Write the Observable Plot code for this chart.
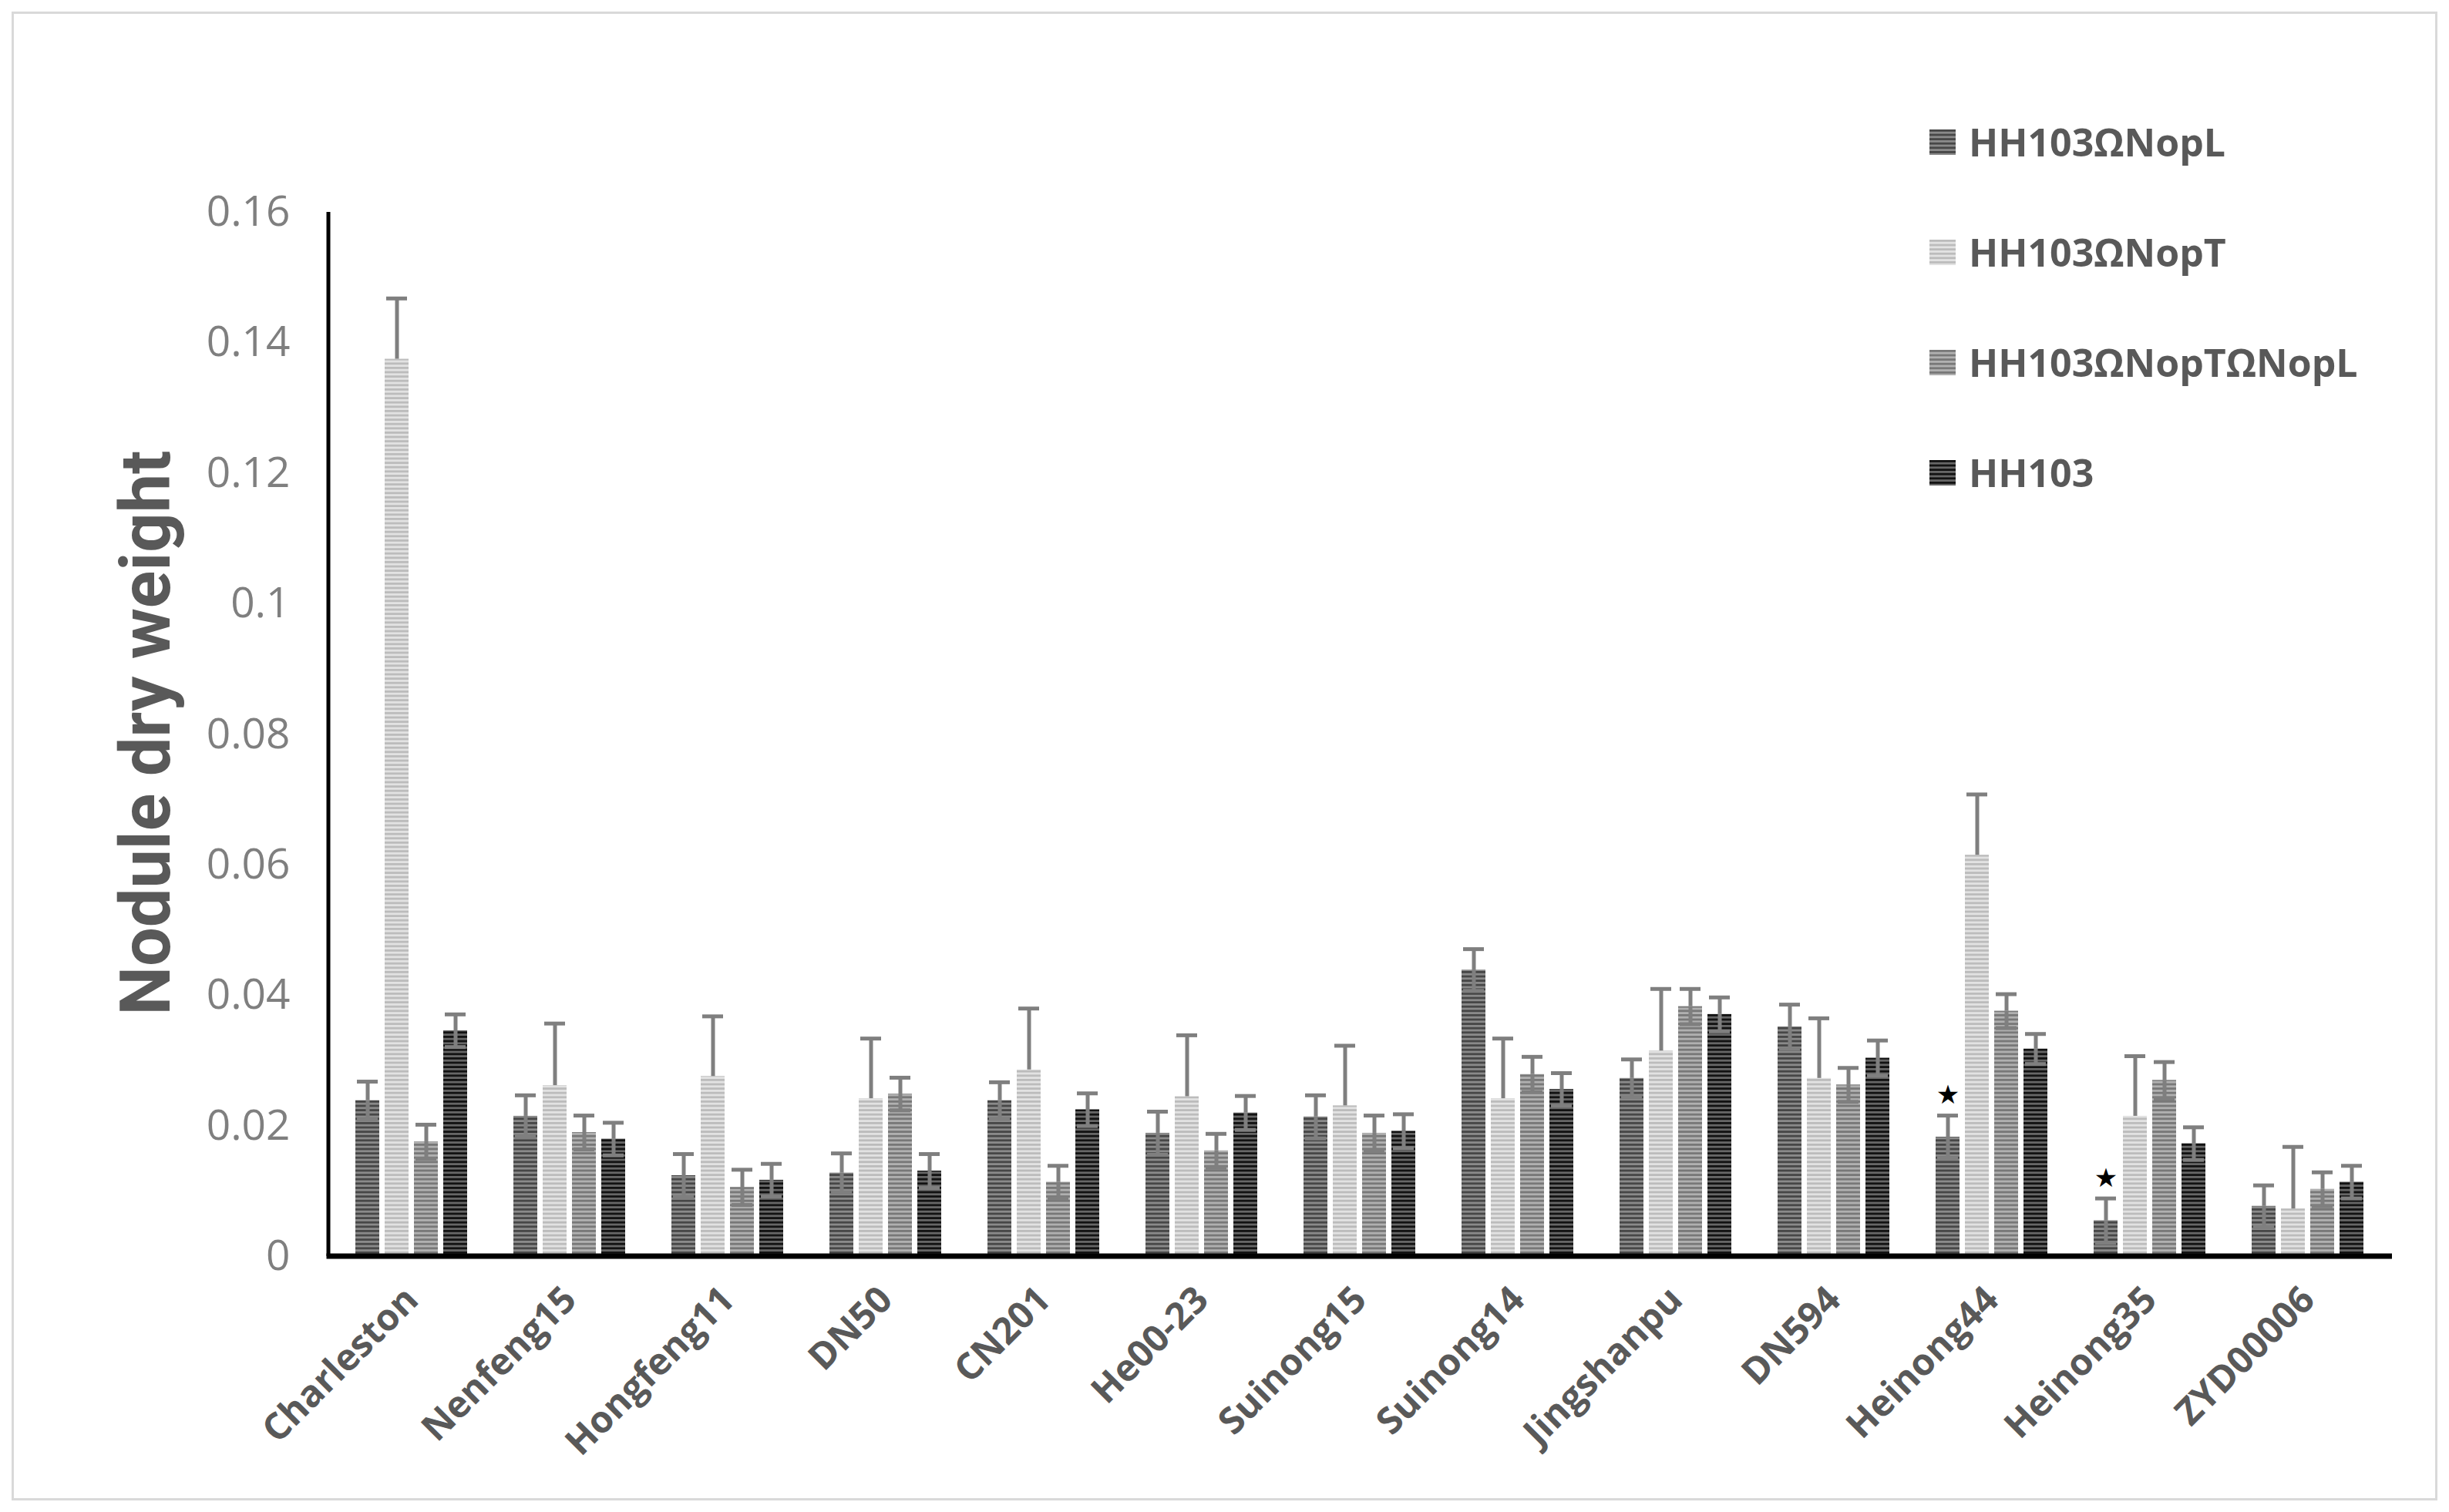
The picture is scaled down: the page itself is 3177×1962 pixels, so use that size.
<!DOCTYPE html>
<html>
<head>
<meta charset="utf-8">
<script src="https://cdn.jsdelivr.net/npm/d3@7"></script>
<script src="https://cdn.jsdelivr.net/npm/@observablehq/plot@0.6"></script>
<style>
html, body { margin: 0; padding: 0; background: #fff; }
#wrap { position: relative; width: 3177px; height: 1962px; overflow: hidden; background: #fff; }
#border { position: absolute; left: 15px; top: 15px; width: 3147px; height: 1932px; border: 3px solid #d9d9d9; box-sizing: border-box; pointer-events: none; }
#chart { position: absolute; left: 0; top: 0; }
#ytitle { position: absolute; left: 190px; top: 951px; transform: translate(-50%, -50%) rotate(-90deg); white-space: nowrap; font: bold 90px Roboto, sans-serif; line-height: 1; color: #595959; }
.leg { position: absolute; left: 2503px; height: 60px; display: flex; align-items: center; white-space: nowrap; font: bold 50px "Open Sans", sans-serif; color: #595959; }
.leg svg { margin-right: 17px; }
g[aria-label="fx-axis tick label"] text { font-weight: bold; }
</style>
</head>
<body>
<svg width="0" height="0" style="position:absolute">
  <defs>
    <pattern id="p0" patternUnits="userSpaceOnUse" width="8" height="5.6">
      <rect width="8" height="5.6" fill="#8a8a8a"/><rect width="8" height="2.8" fill="#474747"/>
    </pattern>
    <pattern id="p1" patternUnits="userSpaceOnUse" width="8" height="5.6">
      <rect width="8" height="5.6" fill="#e2e2e2"/><rect width="8" height="2.8" fill="#bcbcbc"/>
    </pattern>
    <pattern id="p2" patternUnits="userSpaceOnUse" width="8" height="5.6">
      <rect width="8" height="5.6" fill="#b0b0b0"/><rect width="8" height="2.8" fill="#787878"/>
    </pattern>
    <pattern id="p3" patternUnits="userSpaceOnUse" width="8" height="5.6">
      <rect width="8" height="5.6" fill="#666666"/><rect width="8" height="2.8" fill="#121212"/>
    </pattern>
  </defs>
</svg>
<div id="wrap">
  <div id="chart"></div>
  <div id="ytitle">Nodule dry weight</div>
  <div id="legend"></div>
  <div id="border"></div>
</div>
<script>
// ---- data ----
const cultivars = ["Charleston","Nenfeng15","Hongfeng11","DN50","CN201","He00-23","Suinong15","Suinong14","Jingshanpu","DN594","Heinong44","Heinong35","ZYD00006"];
const series = ["HH103ΩNopL","HH103ΩNopT","HH103ΩNopTΩNopL","HH103"];

const nopL     = [0.0239, 0.0215, 0.0124, 0.0128, 0.0239, 0.0189, 0.0214, 0.0439, 0.0273, 0.0352, 0.0183, 0.0055, 0.0077];
const nopLErr  = [0.0029, 0.0032, 0.0033, 0.0030, 0.0028, 0.0033, 0.0033, 0.0032, 0.0029, 0.0034, 0.0033, 0.0034, 0.0032];
const nopT     = [0.1375, 0.0262, 0.0276, 0.0242, 0.0286, 0.0245, 0.0231, 0.0242, 0.0315, 0.0273, 0.0615, 0.0215, 0.0073];
const nopTErr  = [0.0093, 0.0095, 0.0092, 0.0092, 0.0094, 0.0094, 0.0092, 0.0092, 0.0095, 0.0092, 0.0093, 0.0092, 0.0095];
const nopTL    = [0.0176, 0.0190, 0.0106, 0.0249, 0.0114, 0.0162, 0.0189, 0.0279, 0.0383, 0.0263, 0.0376, 0.0270, 0.0103];
const nopTLErr = [0.0026, 0.0026, 0.0027, 0.0025, 0.0025, 0.0026, 0.0027, 0.0027, 0.0027, 0.0026, 0.0026, 0.0028, 0.0026];
const hh103    = [0.0346, 0.0180, 0.0117, 0.0131, 0.0225, 0.0220, 0.0192, 0.0256, 0.0371, 0.0304, 0.0318, 0.0173, 0.0114];
const hh103Err = [0.0025, 0.0025, 0.0025, 0.0026, 0.0025, 0.0026, 0.0026, 0.0025, 0.0026, 0.0027, 0.0023, 0.0025, 0.0025];

// series whose error bar also shows the lower (minus) half over the bar
const lowerErrorShown = ["HH103ΩNopL", "HH103ΩNopTΩNopL", "HH103"];

const starred = [["Heinong44", "HH103ΩNopL"], ["Heinong35", "HH103ΩNopL"]];

const yTicks = [0, 0.02, 0.04, 0.06, 0.08, 0.1, 0.12, 0.14, 0.16];
const yTickLabels = ["0", "0.02", "0.04", "0.06", "0.08", "0.1", "0.12", "0.14", "0.16"];

const patternUrls = ["url(#p0)", "url(#p1)", "url(#p2)", "url(#p3)"];

// ---- table ----
const values = [nopL, nopT, nopTL, hh103];
const errors = [nopLErr, nopTErr, nopTLErr, hh103Err];
const table = [];
cultivars.forEach((c, i) => series.forEach((s, j) => table.push({cultivar: c, series: s, value: values[j][i], err: errors[j][i]})));
const starTable = table.filter(d => starred.some(([c, s]) => c === d.cultivar && s === d.series));
const lowerTable = table.filter(d => lowerErrorShown.includes(d.series) && d.value - d.err >= 0);

const plot = Plot.plot({
  width: 3177,
  height: 1962,
  marginLeft: 426,
  marginRight: 74,
  marginTop: 275,
  marginBottom: 332,
  style: {background: "transparent", fontFamily: "'Open Sans', sans-serif"},
  fx: {domain: cultivars, paddingInner: 0.277, paddingOuter: 0.1385, label: null, axis: null},
  x: {domain: series, paddingInner: 0.18, paddingOuter: 0, axis: null},
  y: {domain: [0, 0.16], axis: null},
  color: {domain: series, range: patternUrls},
  marks: [
    Plot.barY(table, {fx: "cultivar", x: "series", y: "value", fill: "series"}),
    Plot.ruleX(table, {fx: "cultivar", x: "series", y1: "value", y2: d => d.value + d.err, stroke: "#7f7f7f", strokeWidth: 5}),
    Plot.ruleX(lowerTable, {fx: "cultivar", x: "series", y1: d => d.value - d.err, y2: "value", stroke: "#7f7f7f", strokeWidth: 5}),
    Plot.tickY(table, {fx: "cultivar", x: "series", y: d => d.value + d.err, stroke: "#7f7f7f", strokeWidth: 5, insetLeft: 2, insetRight: 2}),
    Plot.tickY(lowerTable, {fx: "cultivar", x: "series", y: d => d.value - d.err, stroke: "#7f7f7f", strokeWidth: 5, insetLeft: 2, insetRight: 2}),
    Plot.text(starTable, {fx: "cultivar", x: "series", y: d => d.value + d.err, text: () => "★", dy: -26, fontSize: 34, fill: "#000", fontFamily: "DejaVu Sans"}),
    Plot.axisY({ticks: yTicks, tickFormat: d => yTickLabels[yTicks.indexOf(d)], tickSize: 0, tickPadding: 84, fontSize: 55, fill: "#7f7f7f", label: null}),
    Plot.axisFx({anchor: "bottom", tickRotate: -45, tickSize: 0, tickPadding: 48, fontSize: 48, fontWeight: "bold", fill: "#595959", label: null})
  ]
});

// axis lines drawn from the plot's own y scale
const ys = plot.scale("y");
const y0 = ys.apply(0), yTop = ys.apply(0.16);
const svg = d3.select(plot);
svg.append("line").attr("x1", 426).attr("x2", 426).attr("y1", yTop).attr("y2", y0).attr("stroke", "#000").attr("stroke-width", 5);
svg.append("line").attr("x1", 423.5).attr("x2", 3177 - 74).attr("y1", y0).attr("y2", y0).attr("stroke", "#000").attr("stroke-width", 7);

document.getElementById("chart").appendChild(plot);

// legend
const legend = document.getElementById("legend");
series.forEach((s, i) => {
  const item = document.createElement("div");
  item.className = "leg";
  item.style.top = (154 + i * 143) + "px";
  item.innerHTML = `<svg width="34" height="33"><rect width="34" height="33" fill="${patternUrls[i]}"/></svg><span>${s}</span>`;
  legend.appendChild(item);
});
</script>
</body>
</html>
